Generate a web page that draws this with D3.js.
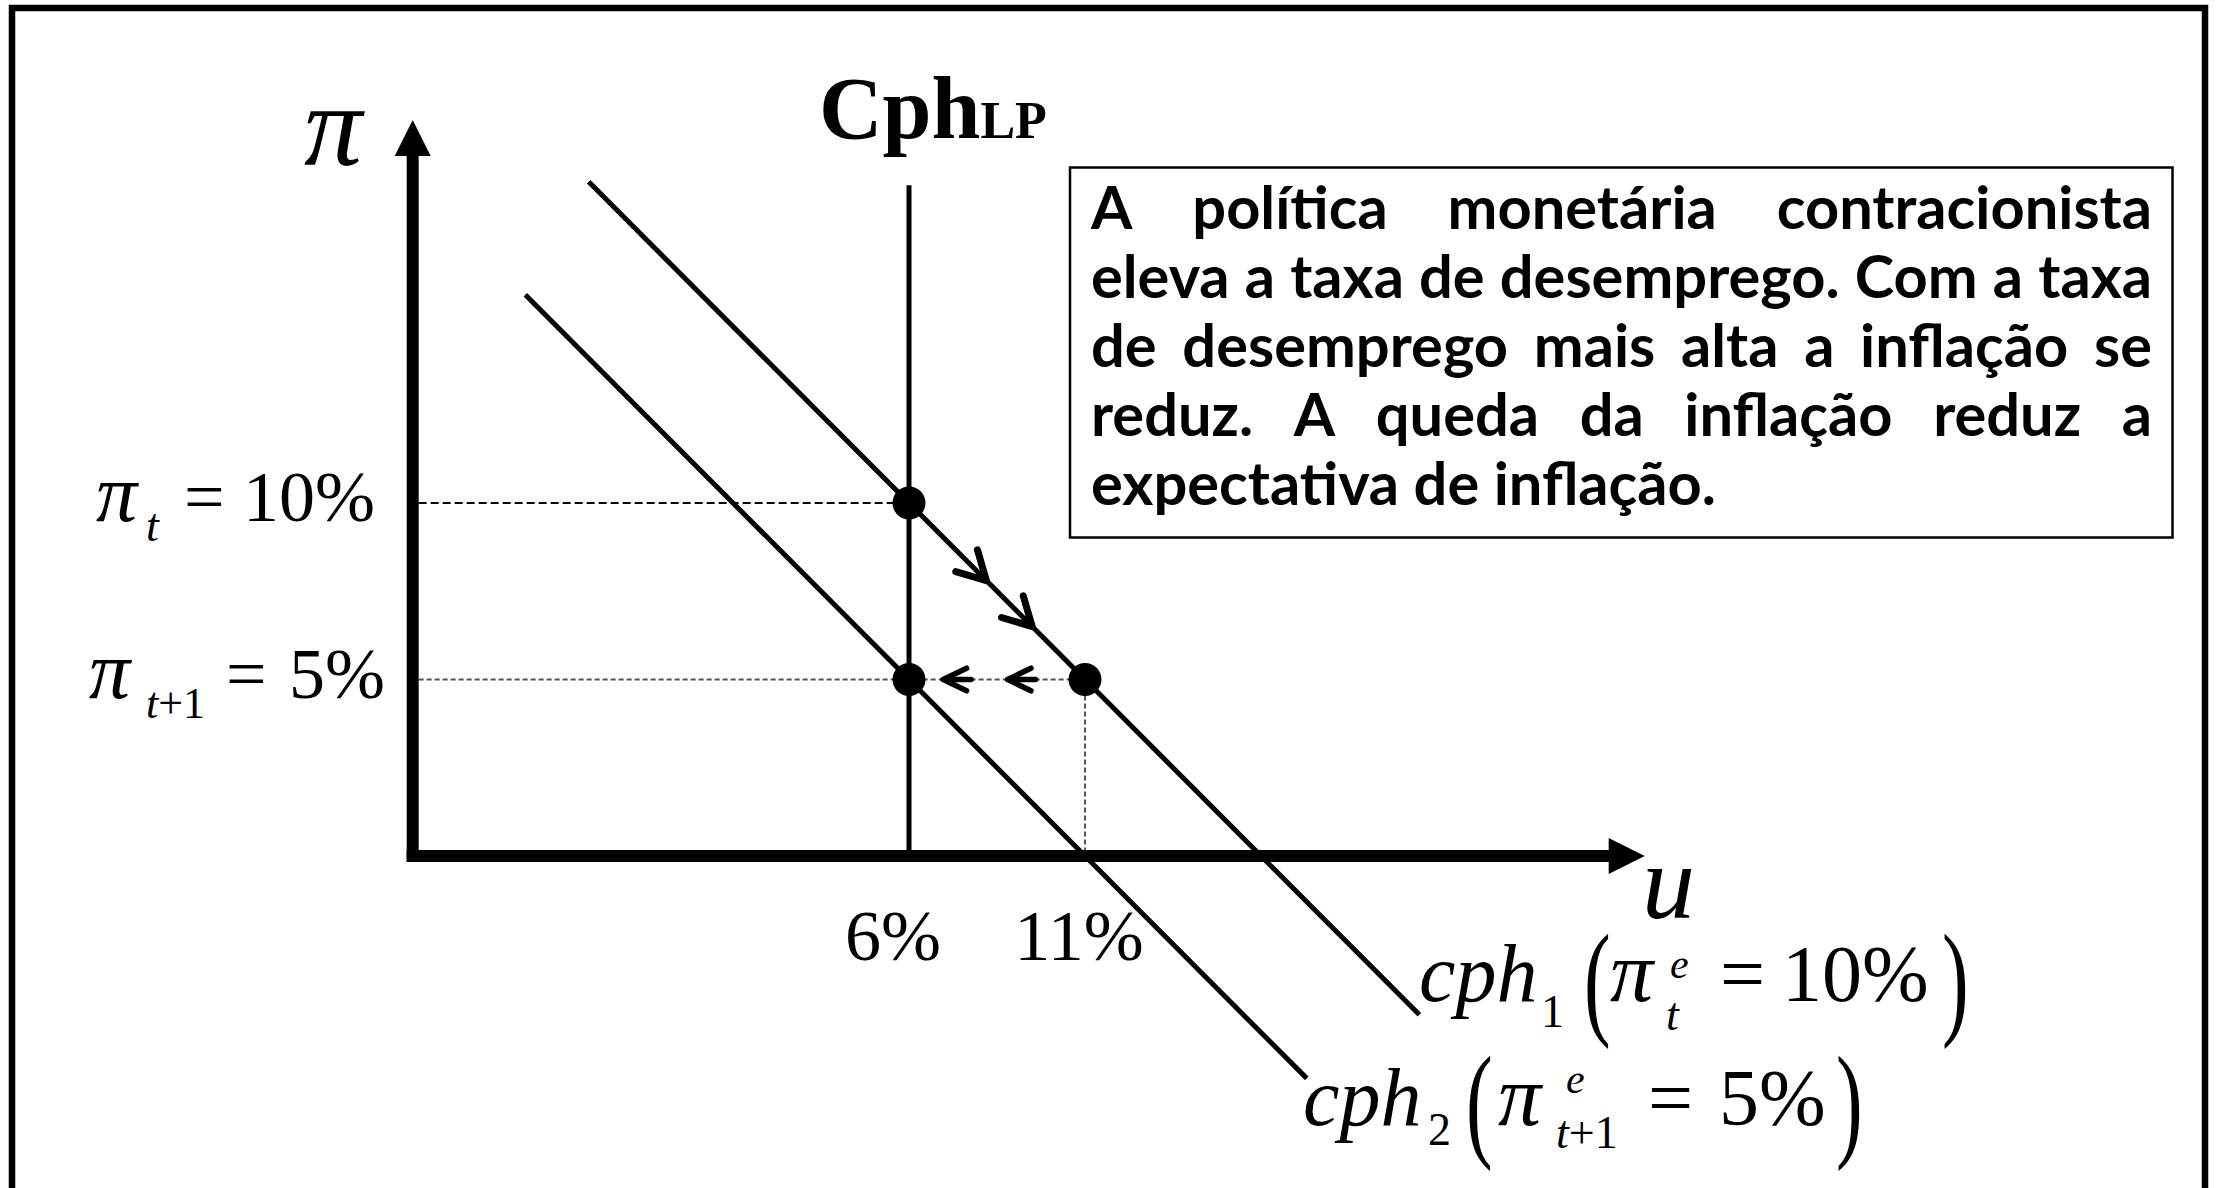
<!DOCTYPE html>
<html>
<head>
<meta charset="utf-8">
<script src="https://cdn.jsdelivr.net/npm/d3@7"></script>
<style>
  html, body { margin: 0; padding: 0; background: #fff; }
  svg { display: block; }
</style>
</head>
<body>
<div id="chart"></div>
<script>
// Phillips curve diagram: contractionary monetary policy
// values are in percent: u = unemployment, pi = inflation

const uAxisExtent = [-8.1, 26.9];
const piAxisExtent = [0, 20.85];
const naturalRate = 6;
const longRunTop = 19.0;

const curveNames = ['cph1', 'cph2'];
const curveExpected = [10, 5];
const curveUStart = [-3.1, -4.9];
const curveUEnd = [20.5, 17.3];

const pointU = [6, 6, 11];
const pointPi = [10, 5, 5];

const pathArrowU = [8.2, 9.5];     // along cph1, moving down-right
const shiftArrowU = [6.97, 8.8];   // along pi = 5, pointing left

const uTicks = [6, 11];
const uTickLabels = ['6%', '11%'];

const noteLines = [
  'A política monetária contracionista',
  'eleva a taxa de desemprego. Com a taxa',
  'de desemprego mais alta a inflação se',
  'reduz. A queda da inflação reduz a',
  'expectativa de inflação.'
];

const W = 2216, H = 1188;
const serif = '"Liberation Serif", "Times New Roman", Times, serif';

const svg = d3.select('#chart').append('svg')
  .attr('width', W)
  .attr('height', H);

svg.append('rect').attr('width', W).attr('height', H).attr('fill', '#fff');

// outer frame (bottom edge runs off the picture)
svg.append('rect')
  .attr('x', 12).attr('y', 8)
  .attr('width', 2193).attr('height', 1300)
  .attr('fill', 'none')
  .attr('stroke', '#000')
  .attr('stroke-width', 6.5);

const x = d3.scaleLinear().domain([6, 11]).range([909, 1085]);
const y = d3.scaleLinear().domain([0, 10]).range([856, 503]);

const phillips = (pe, u) => pe - (u - naturalRate);

// dashed guides
const x0 = x(uAxisExtent[0]);
const y0 = y(piAxisExtent[0]);

svg.append('line')
  .attr('x1', x0 + 6).attr('x2', x(pointU[0]))
  .attr('y1', y(pointPi[0])).attr('y2', y(pointPi[0]))
  .attr('stroke', '#000').attr('stroke-width', 2)
  .attr('stroke-dasharray', '8,4');

svg.append('line')
  .attr('x1', x0 + 6).attr('x2', x(pointU[2]))
  .attr('y1', y(pointPi[2])).attr('y2', y(pointPi[2]))
  .attr('stroke', '#555').attr('stroke-width', 2)
  .attr('stroke-dasharray', '5,3');

svg.append('line')
  .attr('x1', x(pointU[2])).attr('x2', x(pointU[2]))
  .attr('y1', y(pointPi[2])).attr('y2', y0)
  .attr('stroke', '#555').attr('stroke-width', 2)
  .attr('stroke-dasharray', '5,3');

// long run Phillips curve
svg.append('line')
  .attr('x1', x(naturalRate)).attr('x2', x(naturalRate))
  .attr('y1', y(longRunTop)).attr('y2', y0)
  .attr('stroke', '#000').attr('stroke-width', 5);

// short run curves
const line = d3.line().x(d => x(d[0])).y(d => y(d[1]));
curveNames.forEach((name, i) => {
  const pts = [curveUStart[i], curveUEnd[i]].map(u => [u, phillips(curveExpected[i], u)]);
  svg.append('path')
    .attr('d', line(pts))
    .attr('fill', 'none')
    .attr('stroke', '#000')
    .attr('stroke-width', 5);
});

// axes
const xTip = x(uAxisExtent[1]);
const yTip = y(piAxisExtent[1]);
const head = 36;

svg.append('line')
  .attr('x1', x0).attr('x2', x0)
  .attr('y1', y0 + 6).attr('y2', yTip + head - 1)
  .attr('stroke', '#000').attr('stroke-width', 12);
svg.append('path')
  .attr('d', `M${x0},${yTip}L${x0 - 18},${yTip + head}L${x0 + 18},${yTip + head}Z`)
  .attr('fill', '#000');

svg.append('line')
  .attr('x1', x0 - 6).attr('x2', xTip - head + 1)
  .attr('y1', y0).attr('y2', y0)
  .attr('stroke', '#000').attr('stroke-width', 12);
svg.append('path')
  .attr('d', `M${xTip},${y0}L${xTip - head},${y0 - 18}L${xTip - head},${y0 + 18}Z`)
  .attr('fill', '#000');

// chevron arrows
function chevron(tx, ty, ang, len, half, shaft) {
  const a1 = ang + Math.PI - half, a2 = ang + Math.PI + half;
  let d = `M${tx + len * Math.cos(a1)},${ty + len * Math.sin(a1)}L${tx},${ty}` +
          `L${tx + len * Math.cos(a2)},${ty + len * Math.sin(a2)}`;
  if (shaft) d += `M${tx},${ty}L${tx - shaft * Math.cos(ang)},${ty - shaft * Math.sin(ang)}`;
  return d;
}

const slopeAng = Math.atan2(y(phillips(10, 7)) - y(phillips(10, 6)), x(7) - x(6));
pathArrowU.forEach(u => {
  svg.append('path')
    .attr('d', chevron(x(u), y(phillips(curveExpected[0], u)), slopeAng, 32, 0.5, 0))
    .attr('fill', 'none').attr('stroke', '#000')
    .attr('stroke-width', 7).attr('stroke-linecap', 'round').attr('stroke-linejoin', 'round');
});
shiftArrowU.forEach(u => {
  svg.append('path')
    .attr('d', chevron(x(u), y(pointPi[2]), Math.PI, 26, 0.45, 28))
    .attr('fill', 'none').attr('stroke', '#000')
    .attr('stroke-width', 5.5).attr('stroke-linecap', 'round').attr('stroke-linejoin', 'round');
});

// equilibrium points
svg.selectAll('circle.pt')
  .data(pointU.map((u, i) => [u, pointPi[i]]))
  .enter().append('circle')
  .attr('class', 'pt')
  .attr('cx', d => x(d[0]))
  .attr('cy', d => y(d[1]))
  .attr('r', 16.5)
  .attr('fill', '#000');

// math labels
function txt(px, py, s, size, opts = {}) {
  return svg.append('text')
    .attr('x', px).attr('y', py)
    .attr('font-family', serif)
    .attr('font-size', size)
    .attr('font-style', opts.italic ? 'italic' : 'normal')
    .attr('font-weight', opts.bold ? 700 : 400)
    .attr('text-anchor', opts.anchor || 'start')
    .attr('fill', '#000')
    .text(s);
}
function paren(px, cy, s, size, sy) {
  svg.append('text')
    .attr('transform', `translate(${px},${cy}) scale(1,${sy})`)
    .attr('font-family', serif)
    .attr('font-size', size)
    .attr('dominant-baseline', 'central')
    .attr('fill', '#000')
    .text(s);
}

// axis titles
txt(304, 165, 'π', 116, { italic: true });
txt(1642, 918, 'u', 106, { italic: true });

// LR curve title
const cph = txt(819, 138, 'Cph', 88, { bold: true });
cph.append('tspan').attr('font-size', 52).text('LP');

// inflation labels
txt(96, 521, 'π', 82, { italic: true });
txt(146, 541, 't', 46, { italic: true });
txt(184, 521, '=', 72);
txt(243, 521, '10%', 72);

txt(89, 698, 'π', 82, { italic: true });
const sub = txt(146, 718, 't', 44, { italic: true });
sub.append('tspan').attr('font-style', 'normal').text('+1');
txt(226, 698, '=', 72);
txt(289, 698, '5%', 72);

// unemployment ticks
uTicks.forEach((u, i) => {
  txt(x(u) + (i === 0 ? -16 : -6), 960, uTickLabels[i], 72, { anchor: 'middle' });
});

// curve labels
txt(1419, 1001, 'cph', 82, { italic: true });
txt(1541, 1027, '1', 46);
paren(1584, 979, '(', 80, 1.6);
txt(1610, 1001, 'π', 86, { italic: true });
txt(1670, 978, 'e', 42, { italic: true });
txt(1666, 1030, 't', 46, { italic: true });
txt(1720, 1001, '=', 80);
txt(1782, 1001, '10%', 80);
paren(1942, 979, ')', 80, 1.6);

txt(1303, 1125, 'cph', 82, { italic: true });
txt(1428, 1145, '2', 46);
paren(1466, 1101, '(', 80, 1.6);
txt(1498, 1125, 'π', 86, { italic: true });
txt(1566, 1093, 'e', 42, { italic: true });
const sub2 = txt(1556, 1148, 't', 46, { italic: true });
sub2.append('tspan').attr('font-style', 'normal').text('+1');
txt(1648, 1125, '=', 80);
txt(1719, 1125, '5%', 80);
paren(1836, 1101, ')', 80, 1.6);

// explanatory box
svg.append('rect')
  .attr('x', 1070).attr('y', 167.5)
  .attr('width', 1102.5).attr('height', 370)
  .attr('fill', '#fff')
  .attr('stroke', '#000')
  .attr('stroke-width', 2.5);

const textLeft = 1091, textRight = 2152, firstBase = 229, lineStep = 69;
const tg = svg.append('g')
  .attr('font-family', 'Lato, "Open Sans", sans-serif')
  .attr('font-weight', 700)
  .attr('fill', '#000');

const probe = tg.append('text').attr('font-size', 100);
const measure = s => { probe.text(s); return probe.node().getComputedTextLength(); };
const fontSize = 100 * 625 / measure(noteLines[4]);

noteLines.forEach((ln, i) => {
  const t = tg.append('text').attr('font-size', fontSize).attr('y', firstBase + i * lineStep);
  if (i === noteLines.length - 1) {
    t.attr('x', textLeft).text(ln);
    return;
  }
  const words = ln.split(' ');
  const widths = words.map(w => measure(w) * fontSize / 100);
  const gap = (textRight - textLeft - d3.sum(widths)) / (words.length - 1);
  let cx = textLeft;
  words.forEach((w, j) => {
    t.append('tspan').attr('x', cx).text(w);
    cx += widths[j] + gap;
  });
});
probe.remove();
</script>
</body>
</html>
